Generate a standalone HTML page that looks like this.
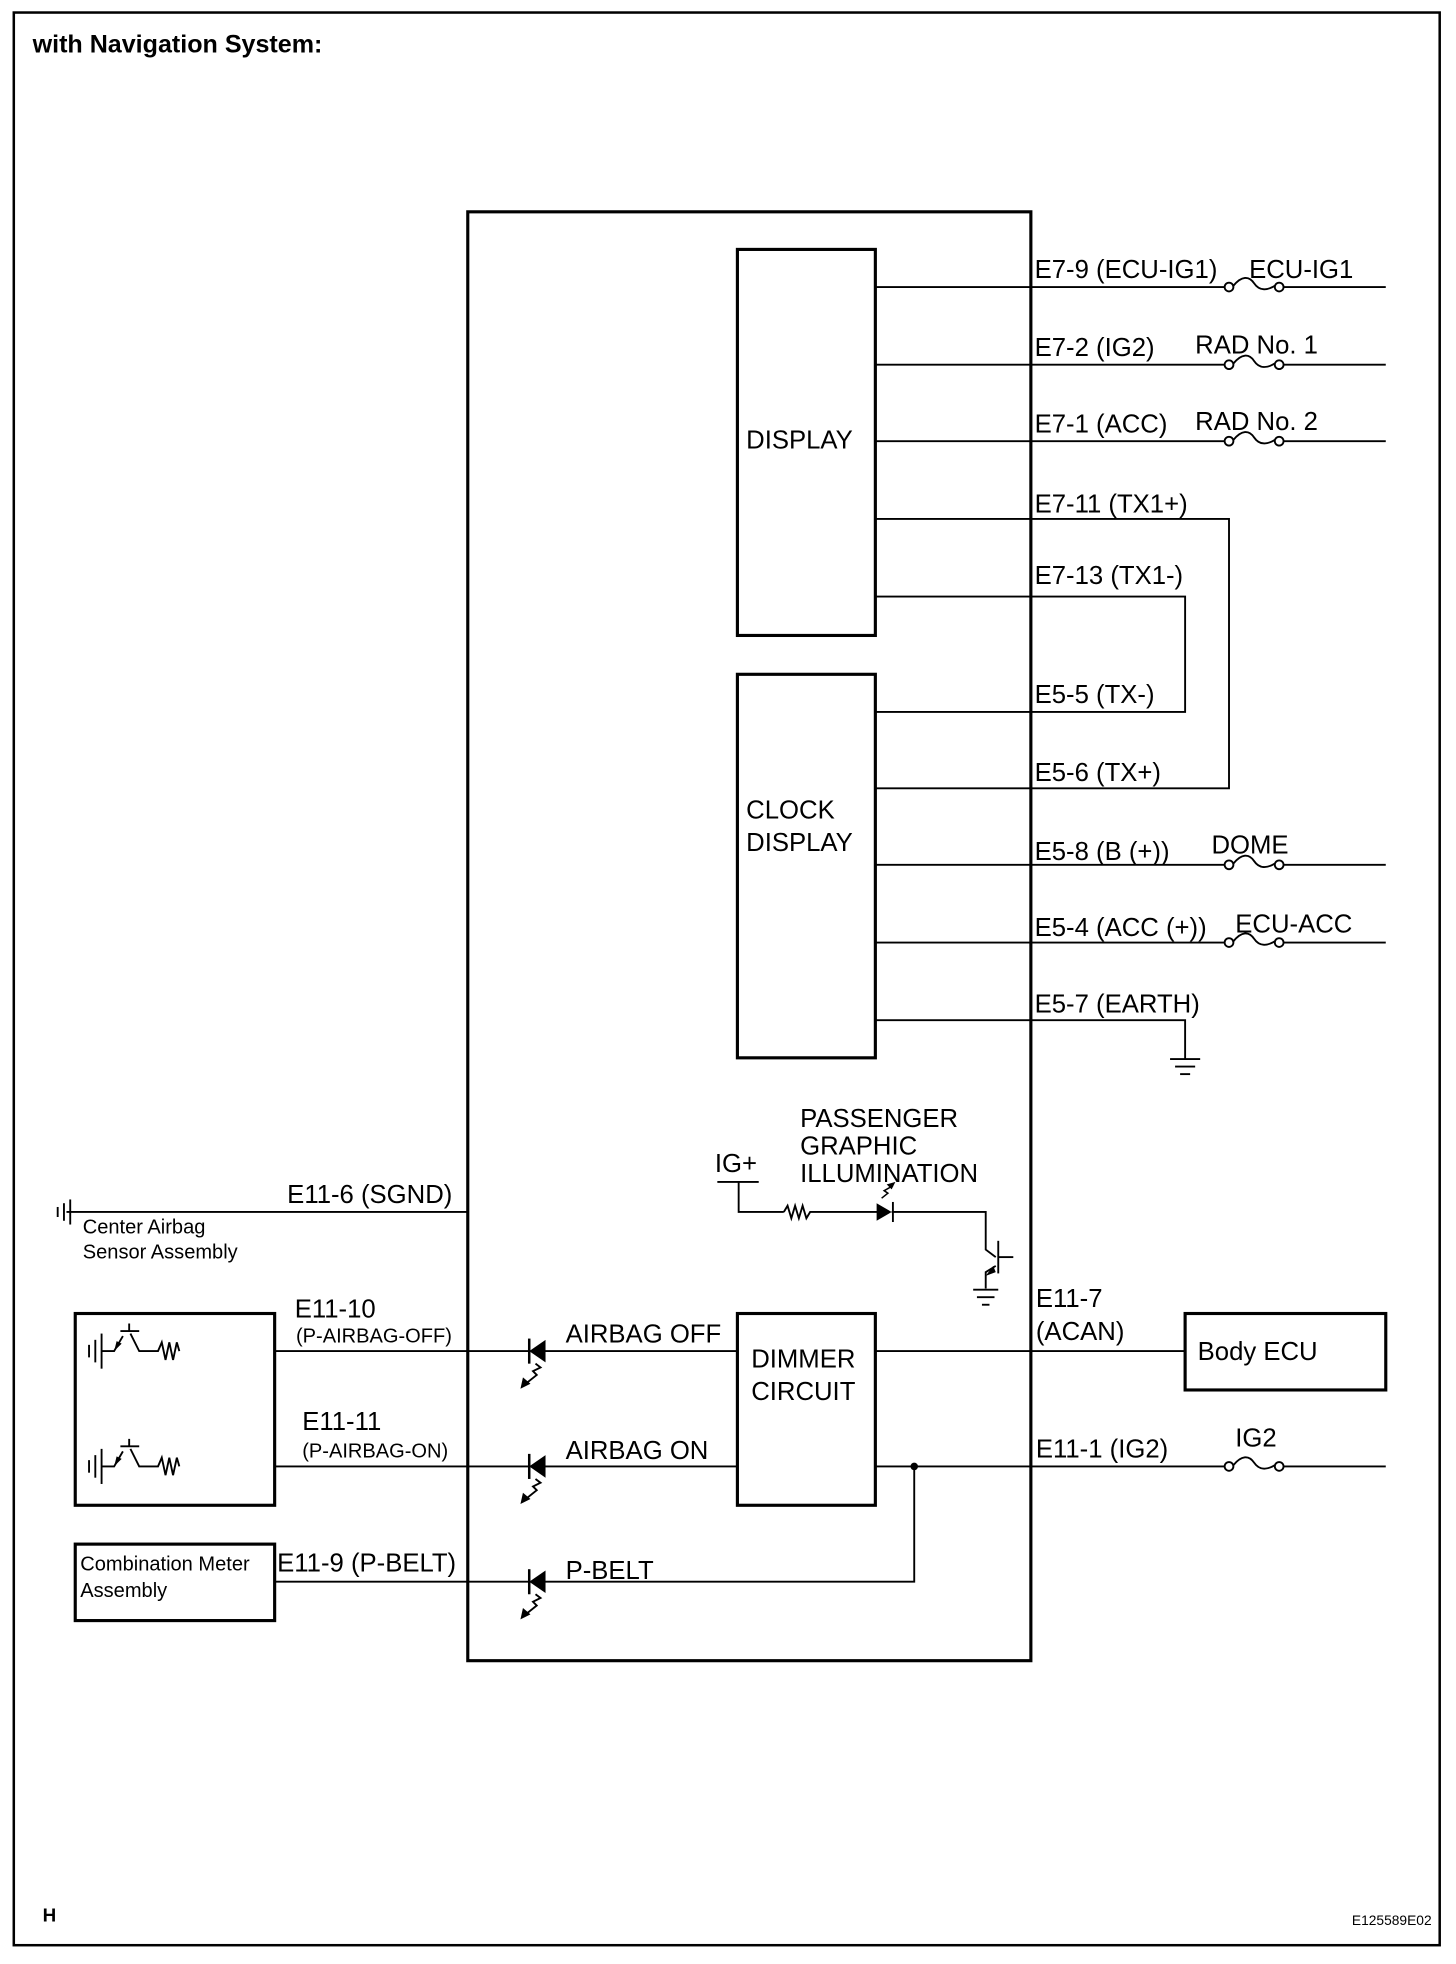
<!DOCTYPE html>
<html><head><meta charset="utf-8"><style>html,body{margin:0;padding:0;background:#fff}svg{display:block}text{font-family:"Liberation Sans",Arial,sans-serif;fill:#000}</style></head><body>
<svg width="1456" height="1964" viewBox="0 0 1161 1567" preserveAspectRatio="none" xmlns="http://www.w3.org/2000/svg">
<defs>
<g id="fuse"><circle cx="0" cy="0" r="3.5" fill="#fff" stroke="#000" stroke-width="1.5"/><circle cx="40" cy="0" r="3.5" fill="#fff" stroke="#000" stroke-width="1.5"/><path d="M3.5 -1 C10 -9 16 -9 20 -3 C24 3 30 3 36.5 -1" fill="none" stroke="#000" stroke-width="1.5"/></g>
<g id="led"><polygon points="0,0 13,-9 13,9" fill="#000"/><line x1="0" y1="-10" x2="0" y2="10" stroke="#000" stroke-width="2"/><path d="M5 10 L9 13 L3 16 L6 19 L-4 27" fill="none" stroke="#000" stroke-width="1.5"/><polygon points="-7,30 -5,21 1,26" fill="#000"/></g>
<g id="sens"><line x1="0" y1="-5" x2="0" y2="5" stroke="#000" stroke-width="1.5"/><line x1="5" y1="-9" x2="5" y2="9" stroke="#000" stroke-width="1.5"/><line x1="10" y1="-14" x2="10" y2="14" stroke="#000" stroke-width="1.5"/><path d="M10 0 H20 L27 -12 M25 -16 H40 M32 -22 V-16 M33 -14 L40 0 H55 L58 -7 L61 7 L64 -7 L67 7 L70 -7 L72 0" fill="none" stroke="#000" stroke-width="1.5"/><polygon points="20,0 22,-8 26,-6" fill="#000"/></g>
</defs>
<rect x="0" y="0" width="1161" height="1567" fill="#fff"/>
<rect x="11" y="10" width="1137" height="1542" fill="none" stroke="#000" stroke-width="2"/>
<text x="26" y="42" font-size="20" font-weight="bold">with Navigation System:</text>
<text x="34" y="1533" font-size="15" font-weight="bold">H</text>
<text x="1078" y="1536" font-size="11">E125589E02</text>

<g stroke="#000" fill="none" stroke-width="2.5">
<rect x="373" y="169" width="449" height="1156"/>
<rect x="588" y="199" width="110" height="308"/>
<rect x="588" y="538" width="110" height="306"/>
<rect x="588" y="1048" width="110" height="153"/>
<rect x="945" y="1048" width="160" height="61"/>
<rect x="60" y="1048" width="159" height="153"/>
<rect x="60" y="1232" width="159" height="61"/>
</g>
<g stroke="#000" fill="none" stroke-width="1.5">
<line x1="698" y1="229" x2="978" y2="229"/><line x1="1022" y1="229" x2="1105" y2="229"/>
<line x1="698" y1="291" x2="978" y2="291"/><line x1="1022" y1="291" x2="1105" y2="291"/>
<line x1="698" y1="352" x2="978" y2="352"/><line x1="1022" y1="352" x2="1105" y2="352"/>
<polyline points="698,414 980,414 980,629 698,629"/>
<polyline points="698,476 945,476 945,568 698,568"/>
<line x1="698" y1="690" x2="978" y2="690"/><line x1="1022" y1="690" x2="1105" y2="690"/>
<line x1="698" y1="752" x2="978" y2="752"/><line x1="1022" y1="752" x2="1105" y2="752"/>
<polyline points="698,814 945,814 945,845"/>
<line x1="933" y1="845" x2="957" y2="845"/><line x1="937" y1="851" x2="953" y2="851"/><line x1="941" y1="857" x2="949" y2="857"/>
<line x1="53" y1="967" x2="373" y2="967"/>
<line x1="219" y1="1078" x2="422" y2="1078"/><line x1="434" y1="1078" x2="588" y2="1078"/>
<line x1="219" y1="1170" x2="422" y2="1170"/><line x1="434" y1="1170" x2="588" y2="1170"/>
<line x1="219" y1="1262" x2="422" y2="1262"/><polyline points="434,1262 729,1262 729,1170 698,1170"/>
<line x1="698" y1="1078" x2="945" y2="1078"/>
<line x1="729" y1="1170" x2="978" y2="1170"/><line x1="1022" y1="1170" x2="1105" y2="1170"/>
<line x1="572" y1="943" x2="605" y2="943"/>
<polyline points="589,943 589,967 625,967"/>
<polyline points="625,967 628,962 631,972 634,962 637,972 640,962 643,972 646,967 700,967"/>
<polyline points="711,967 786,967 786,997 794,1003"/>
<line x1="796" y1="990" x2="796" y2="1016"/><line x1="796" y1="1003" x2="808" y2="1003"/>
<polyline points="794,1010 786,1015 786,1028"/>
<line x1="776" y1="1029" x2="796" y2="1029"/><line x1="779" y1="1035" x2="793" y2="1035"/><line x1="783" y1="1041" x2="789" y2="1041"/>
<line x1="46" y1="963" x2="46" y2="971"/><line x1="51" y1="960" x2="51" y2="974"/><line x1="56" y1="957" x2="56" y2="977"/>
</g>
<circle cx="729" cy="1170" r="3" fill="#000"/>
<polygon points="699,960 711,967 699,974" fill="#000"/><line x1="712" y1="959" x2="712" y2="975" stroke="#000" stroke-width="1.5"/>
<path d="M703 956 L708 952 L705 950 L712 946" fill="none" stroke="#000" stroke-width="1.2"/><polygon points="714,943 707,945 711,949" fill="#000"/>
<polygon points="786,1018 792,1010 794,1015" fill="#000"/>
<use href="#fuse" x="980" y="229"/><use href="#fuse" x="980" y="291"/><use href="#fuse" x="980" y="352"/>
<use href="#fuse" x="980" y="690"/><use href="#fuse" x="980" y="752"/><use href="#fuse" x="980" y="1170"/>
<use href="#led" x="422" y="1078"/><use href="#led" x="422" y="1170"/><use href="#led" x="422" y="1262"/>
<use href="#sens" x="71" y="1078"/><use href="#sens" x="71" y="1170"/>

<g font-size="20.5">
<text x="825" y="222">E7-9 (ECU-IG1)</text><text x="996" y="222">ECU-IG1</text>
<text x="825" y="284">E7-2 (IG2)</text><text x="953" y="282">RAD No. 1</text>
<text x="825" y="345">E7-1 (ACC)</text><text x="953" y="343">RAD No. 2</text>
<text x="825" y="409">E7-11 (TX1+)</text>
<text x="825" y="466">E7-13 (TX1-)</text>
<text x="825" y="561">E5-5 (TX-)</text>
<text x="825" y="623">E5-6 (TX+)</text>
<text x="825" y="686">E5-8 (B (+))</text><text x="966" y="681">DOME</text>
<text x="825" y="747">E5-4 (ACC (+))</text><text x="985" y="744">ECU-ACC</text>
<text x="825" y="808">E5-7 (EARTH)</text>
<text x="595" y="358">DISPLAY</text>
<text x="595" y="653">CLOCK</text><text x="595" y="679">DISPLAY</text>
<text x="599" y="1091">DIMMER</text><text x="599" y="1117">CIRCUIT</text>
<text x="955" y="1085">Body ECU</text>
<text x="638" y="899">PASSENGER</text><text x="638" y="921">GRAPHIC</text><text x="638" y="943">ILLUMINATION</text>
<text x="570" y="935">IG+</text>
<text x="229" y="960">E11-6 (SGND)</text>
<text x="235" y="1051">E11-10</text>
<text x="241" y="1141">E11-11</text>
<text x="221" y="1254">E11-9 (P-BELT)</text>
<text x="451" y="1071">AIRBAG OFF</text>
<text x="451" y="1164">AIRBAG ON</text>
<text x="451" y="1260">P-BELT</text>
<text x="826" y="1043">E11-7</text><text x="826" y="1069">(ACAN)</text>
<text x="826" y="1163">E11-1 (IG2)</text><text x="985" y="1154">IG2</text>
</g>
<g font-size="16">
<text x="236" y="1071">(P-AIRBAG-OFF)</text>
<text x="241" y="1163">(P-AIRBAG-ON)</text>
<text x="66" y="984">Center Airbag</text><text x="66" y="1004">Sensor Assembly</text>
<text x="64" y="1253">Combination Meter</text><text x="64" y="1274">Assembly</text>
</g>
</svg>
</body></html>
